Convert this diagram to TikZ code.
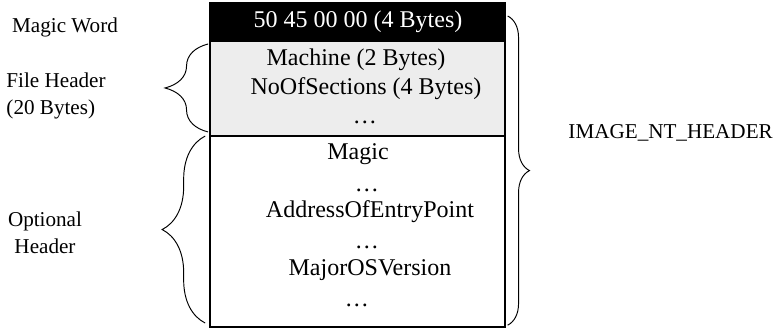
\documentclass[tikz,border=0pt]{standalone}
\usepackage{fontspec}
\setmainfont{Liberation Serif}
\usetikzlibrary{positioning,decorations.pathreplacing}
\definecolor{fieldgray}{HTML}{EDEDED}

\begin{document}
\begin{tikzpicture}[x=0.01464cm,y=-0.01464cm,
		field/.style={draw,thick,minimum width=4.32cm,outer sep=0pt,inner sep=0pt},
		side/.style={font=\fontsize{8.8}{11.1}\selectfont},
		hbrace/.style={decorate,decoration={brace,amplitude=#1}}]
		\useasboundingbox (0,0) rectangle (774,330);
		
		\node[field,fill=black,minimum height=0.556cm,anchor=north west] (mw) at (210,3) {};
		\node[field,fill=fieldgray,minimum height=1.391cm,below=0pt of mw] (fh) {};
		\node[field,fill=white,minimum height=2.796cm,below=0pt of fh] (oh) {};
		
		\node[text=white] (mwt) at (358,22) {50 45 00 00 (4 Bytes)};
		\node (fh1) at (356,60) {Machine (2 Bytes)};
		\node (fh2) at (366,89) {NoOfSections (4 Bytes)};
		\node (fh3) at (365,122) {…};
		
		\node (oh1) at (358,154) {Magic};
		\node (oh2) at (367,190) {…};
		\node (oh3) at (370,212) {AddressOfEntryPoint};
		\node (oh4) at (367,247) {…};
		\node (oh5) at (370,270) {MajorOSVersion};
		\node (oh6) at (357,305) {…};
		
		\node[side] (mwl) at (65,27) {Magic Word};
		\node[side,anchor=west,align=left,inner xsep=0pt] (fhl) at (6,96) {File Header\\(20 Bytes)};
		\node[side,align=center] (ohl) at (45,233) {Optional\\Header};
		\node[side,anchor=west,inner xsep=0pt] (ntl) at (568,133) {IMAGE\_NT\_HEADER};
		
		\draw[hbrace=0.63cm] ([xshift=-0.8pt,yshift=1.7pt]fh.south west) -- ([xshift=-0.8pt,yshift=-1.25pt]fh.north west);
		\draw[hbrace=0.63cm] ([xshift=-2pt,yshift=1.7pt]oh.south west) -- ([xshift=-2pt]oh.north west);
		\draw[hbrace=0.32cm] ([xshift=1pt,yshift=-5.4pt]mw.north east) -- ([xshift=1pt,yshift=0.8pt]oh.south east);
\end{tikzpicture}
\end{document}
